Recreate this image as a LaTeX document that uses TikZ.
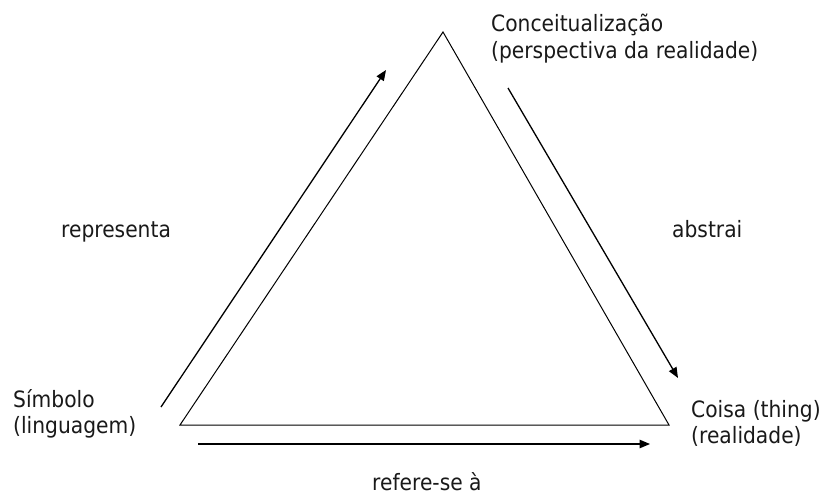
\documentclass[tikz,border=0pt]{standalone}
\usepackage{fontspec}
\setmainfont{DejaVu Sans}[FakeStretch=0.9]
\usetikzlibrary{arrows.meta}
\tikzset{
  tri/.style={line width=1pt, line join=miter},
  arr/.style={line width=1.3pt, -{Triangle[length=10.5pt,width=8.5pt]}},
  lbl/.style={anchor=base west, inner sep=0pt, font=\fontsize{22.5}{26}\selectfont, text=black!90},
}
\begin{document}
\begin{tikzpicture}[x=1pt,y=-1pt]
\useasboundingbox (0,0) rectangle (821,494);
% triangle corners
\coordinate (apex) at (443,32);
\coordinate (bl) at (180,425);
\coordinate (br) at (669,425);
\draw[tri] (apex) -- (br) -- (bl) -- cycle;
% arrow ends
\coordinate (ls) at (161,407);
\coordinate (le) at (386,70);
\coordinate (rs) at (508,88);
\coordinate (re) at (678,378);
\coordinate (bs) at (198,444);
\coordinate (be) at (650,444);
\draw[arr] (ls) -- (le);
\draw[arr] (rs) -- (re);
\draw[arr] (bs) -- (be);
% labels
\node[lbl] (conc) at (491,32) {\begin{tabular}[t]{@{}l@{}}Conceitualização\\[1pt](perspectiva da realidade)\end{tabular}};
\node[lbl] (repr) at (61,238) {representa};
\node[lbl] (abst) at (672,238) {abstrai};
\node[lbl] (simb) at (13,407) {\begin{tabular}[t]{@{}l@{}}Símbolo\\(linguagem)\end{tabular}};
\node[lbl] (cois) at (691,417) {\begin{tabular}[t]{@{}l@{}}Coisa (thing)\\(realidade)\end{tabular}};
\node[lbl] (refe) at (372,490) {refere-se à};
\end{tikzpicture}
\end{document}
